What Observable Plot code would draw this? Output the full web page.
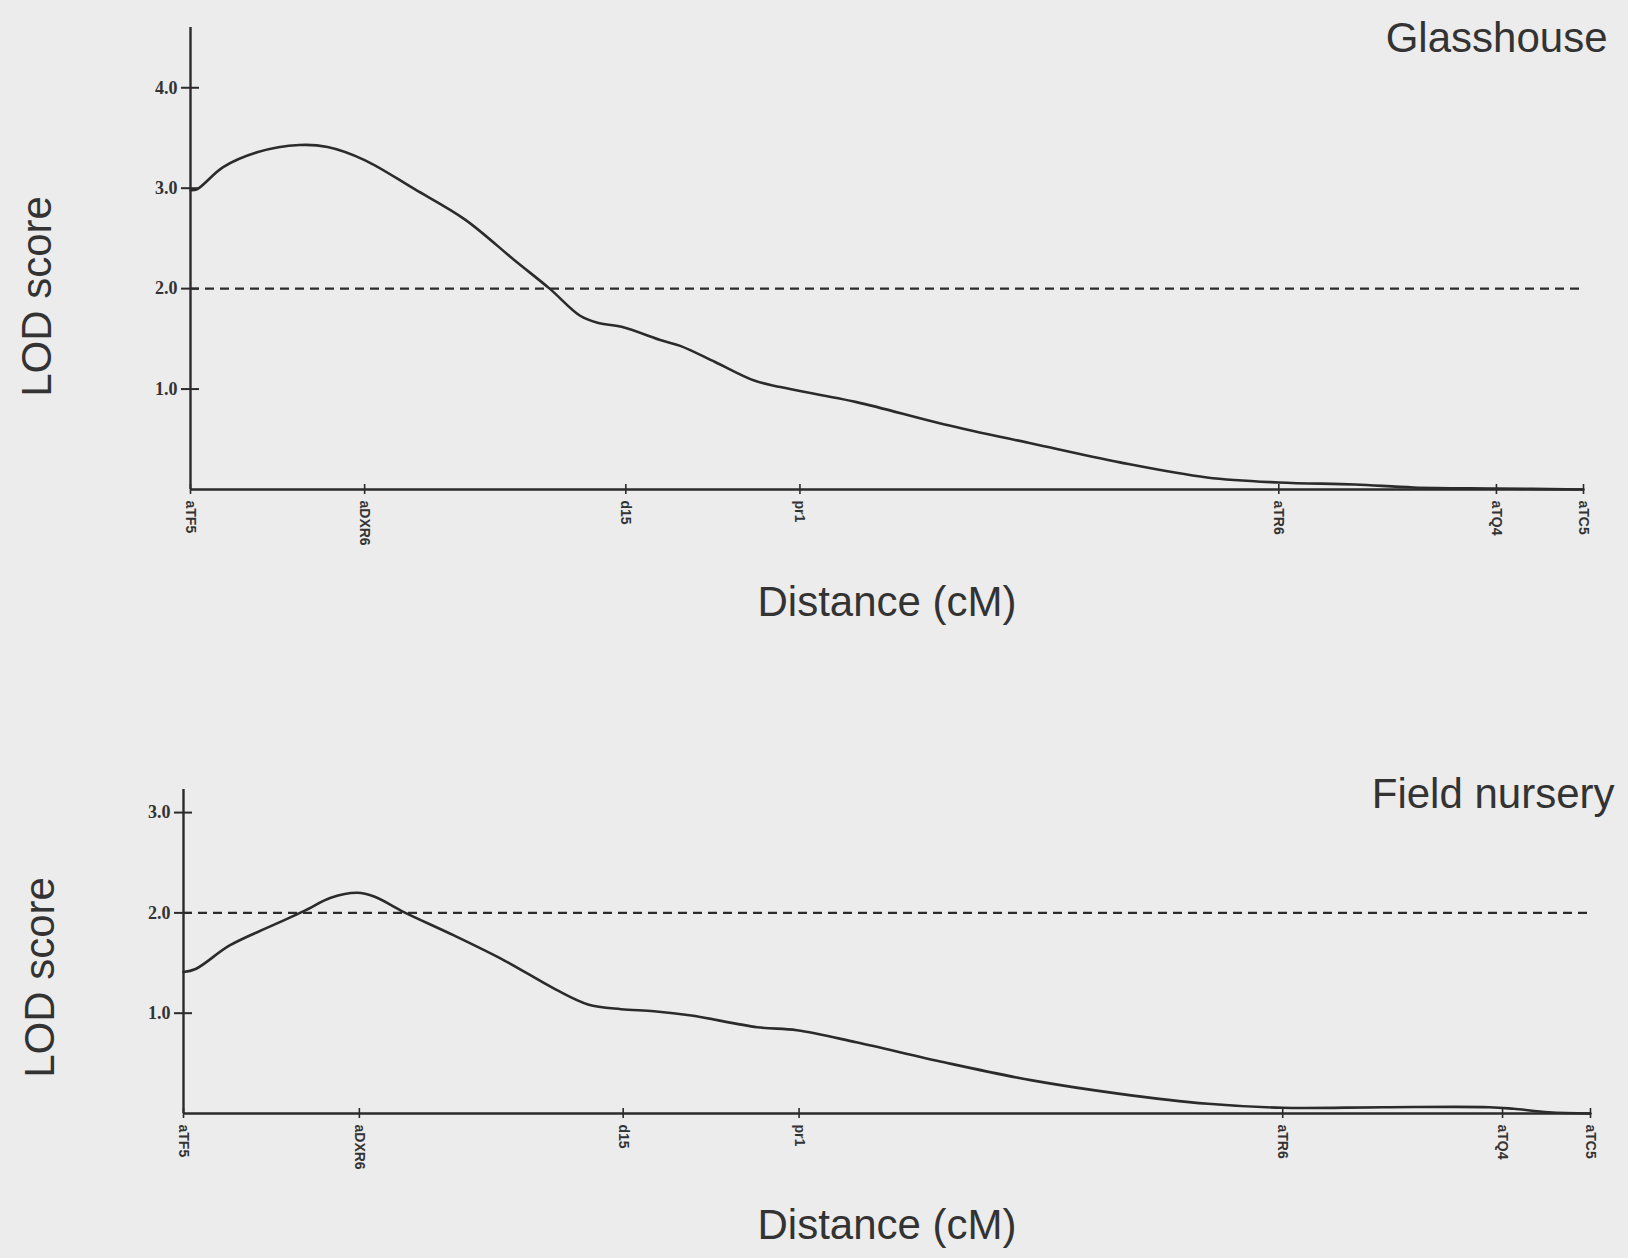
<!DOCTYPE html>
<html>
<head>
<meta charset="utf-8">
<script src="https://cdn.jsdelivr.net/npm/d3@7"></script>
<script src="https://cdn.jsdelivr.net/npm/@observablehq/plot@0.6"></script>
<style>
  html, body { margin: 0; padding: 0; background: #ececec; }
  #chart { width: 1628px; height: 1258px; overflow: hidden; }
  #chart svg { display: block; }
</style>
</head>
<body>
<div id="chart"></div>
<script>
// ---- data ----
const markerNames = ["aTF5", "aDXR6", "d15", "pr1", "aTR6", "aTQ4", "aTC5"];
const markerPos = [0, 8, 20, 28, 50, 60, 64]; // cM

const threshold = 2.0;

const glassDist = [0, 0.3, 1.5, 3.1, 5.0, 6.3, 8.0, 10.3, 12.6, 14.9, 16.5, 17.9, 18.7, 19.8, 21.7, 22.5, 24.1, 25.9, 27.1, 30.6, 34.6, 38.7, 42.7, 46.7, 50, 53.5, 56.2, 60, 64];
const glassLod  = [2.98, 2.99, 3.21, 3.36, 3.43, 3.41, 3.28, 2.99, 2.69, 2.28, 2.0, 1.73, 1.66, 1.62, 1.48, 1.43, 1.27, 1.085, 1.02, 0.87, 0.65, 0.455, 0.27, 0.12, 0.07, 0.05, 0.02, 0.01, 0];

const fieldDist = [0, 0.55, 2.1, 4.0, 5.5, 6.7, 7.9, 8.7, 10.0, 12.3, 14.6, 16.9, 18.4, 19.9, 21.4, 23.1, 26.1, 27.9, 30.6, 34.6, 38.6, 42.6, 46.6, 50, 54.6, 59.4, 60.5, 62.1, 64];
const fieldLod  = [1.41, 1.44, 1.675, 1.87, 2.02, 2.15, 2.20, 2.16, 2.01, 1.775, 1.525, 1.24, 1.087, 1.04, 1.02, 0.977, 0.86, 0.83, 0.71, 0.51, 0.33, 0.196, 0.097, 0.057, 0.063, 0.063, 0.047, 0.013, 0];

const yTicksTop = [1, 2, 3, 4];
const yTicksBottom = [1, 2, 3];

const panelTitles = ["Glasshouse", "Field nursery"];
const xLabel = "Distance (cM)";
const yLabel = "LOD score";

// ---- drawing ----
const ink = "#2b2b2b";
const textInk = "#333333";
const sans = "'Liberation Sans', Arial, sans-serif";
const serif = "'Liberation Serif', 'DejaVu Serif', serif";
const W = 1628;

function panel({dist, lod, yMax, yTicks, title, height, marginTop, marginBottom, marginLeft, marginRight, yLabelDx, yLabelDy, titleDy, xLabelDy}) {
  const rows = dist.map((d, i) => ({d, lod: lod[i]}));
  const frameW = W - marginLeft - marginRight;
  const frameH = height - marginTop - marginBottom;
  return Plot.plot({
    width: W,
    height,
    marginTop, marginBottom, marginLeft, marginRight,
    style: {background: "transparent", overflow: "visible"},
    x: {domain: [0, 64]},
    y: {domain: [0, yMax]},
    marks: [
      Plot.ruleY([threshold], {x1: 0, x2: 64, stroke: ink, strokeWidth: 2.2, strokeDasharray: "9,6"}),
      Plot.ruleX([0], {stroke: ink, strokeWidth: 2.4}),
      Plot.ruleY([0], {stroke: ink, strokeWidth: 2.6}),
      Plot.axisY(yTicks, {tickSize: 9, tickPadding: 4, tickFormat: d3.format(".1f"), fontSize: 18, fontFamily: serif, fontWeight: "bold", fill: textInk, stroke: ink, strokeWidth: 2, label: null}),
      // inner half of the crossing y ticks
      Plot.tickY(yTicks, {y: d => d, insetRight: frameW - 9, stroke: ink, strokeWidth: 2}),
      Plot.axisX(markerPos, {tickSize: 5, tickPadding: 6, tickRotate: 90, tickFormat: d => markerNames[markerPos.indexOf(d)], fontSize: 14, fontFamily: sans, fontWeight: "bold", fill: textInk, stroke: ink, strokeWidth: 1.6, label: null}),
      // inner half of the crossing x ticks
      Plot.tickX(markerPos, {x: d => d, insetTop: frameH - 5, stroke: ink, strokeWidth: 1.6}),
      Plot.line(rows, {x: "d", y: "lod", curve: "catmull-rom", stroke: ink, strokeWidth: 2.6}),
      Plot.text([title], {frameAnchor: "top-right", textAnchor: "end", lineAnchor: "middle", dx: 24, dy: titleDy, fontSize: 42, fontFamily: sans, fill: textInk}),
      Plot.text([xLabel], {frameAnchor: "bottom", textAnchor: "middle", lineAnchor: "middle", dy: xLabelDy, fontSize: 42, fontFamily: sans, fill: textInk}),
      Plot.text([yLabel], {frameAnchor: "left", textAnchor: "middle", lineAnchor: "middle", rotate: -90, dx: yLabelDx, dy: yLabelDy, fontSize: 42, fontFamily: sans, fill: textInk})
    ]
  });
}

const topPanel = panel({
  dist: glassDist, lod: glassLod, yMax: 4.6, yTicks: yTicksTop, title: panelTitles[0],
  height: 650, marginTop: 27, marginBottom: 161, marginLeft: 190, marginRight: 45,
  yLabelDx: -153, yLabelDy: 38, titleDy: 11, xLabelDy: 113
});
const bottomPanel = panel({
  dist: fieldDist, lod: fieldLod, yMax: 3.23, yTicks: yTicksBottom, title: panelTitles[1],
  height: 608, marginTop: 139, marginBottom: 145, marginLeft: 183, marginRight: 38,
  yLabelDx: -143, yLabelDy: 26, titleDy: 5, xLabelDy: 112
});

const chart = document.getElementById("chart");
chart.appendChild(topPanel);
chart.appendChild(bottomPanel);
</script>
</body>
</html>
